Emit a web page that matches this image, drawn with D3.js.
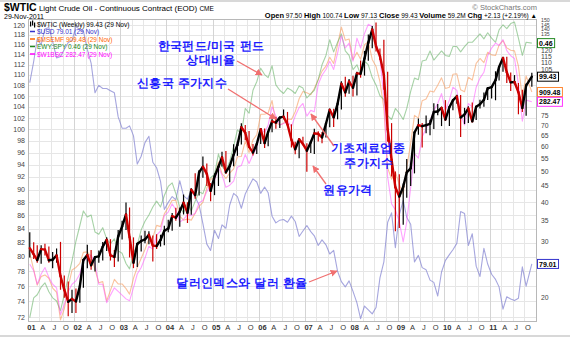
<!DOCTYPE html>
<html><head><meta charset="utf-8">
<script src="https://cdn.jsdelivr.net/npm/d3@7"></script>
<style>body{margin:0;background:#fff}svg{display:block}text{font-family:"Liberation Sans",Arial,sans-serif}</style>
</head><body><svg id="c" width="570" height="339"></svg>
<script>
// Monthly data, Jan 2001 .. Nov 2011 (131 months)
const firstMonth = "2001-01";
const lastDate = "2011-11-29";
const wticClose = [
28.66,27.39,26.29,28.46,28.37,26.25,26.35,27.20,23.43,21.18,19.44,19.84,
19.48,21.74,26.31,27.29,25.31,26.86,27.02,28.98,30.45,27.22,26.89,31.20,
33.51,36.60,31.04,25.80,29.56,30.19,30.54,31.57,29.20,29.11,30.41,32.52,
33.05,36.16,35.76,37.38,39.88,37.05,43.80,42.12,49.64,51.76,49.13,43.45,
48.20,51.75,55.40,49.72,51.97,56.50,60.57,68.94,66.24,59.76,57.32,61.04,
67.92,61.41,66.63,71.88,71.29,73.93,74.40,70.26,62.91,58.73,63.13,61.05,
58.14,61.79,65.87,65.71,64.01,70.68,78.21,74.04,81.66,94.53,88.71,95.98,
91.75,101.84,101.58,113.46,127.35,140.00,124.08,115.46,100.64,67.81,54.43,44.60,
41.68,44.76,49.66,51.12,66.31,69.89,69.45,69.96,70.61,77.00,77.28,79.36,
72.89,79.66,83.76,86.15,73.97,75.63,78.95,71.92,79.97,81.43,84.11,91.38,
92.19,96.97,106.72,113.93,102.70,95.42,95.70,88.81,79.20,93.19,99.43];
const wticHigh = [
32.2,29.9,29.3,29.3,29.6,29.0,27.9,28.6,30.0,23.5,22.5,21.2,
21.4,22.0,26.5,29.4,28.3,27.0,28.2,30.0,31.0,30.6,28.3,32.7,
35.0,39.9,38.5,31.0,29.8,31.4,32.5,32.4,31.4,31.7,31.6,33.7,
35.2,37.0,38.4,38.5,42.3,40.0,44.3,49.4,50.5,55.7,53.0,46.0,
49.3,52.0,57.7,58.0,52.4,60.9,62.3,70.9,70.0,67.0,61.0,61.3,
68.4,68.3,67.0,75.4,74.4,74.3,78.4,77.0,70.4,62.0,63.2,64.3,
61.3,62.2,68.1,66.9,66.6,70.7,78.8,78.8,84.1,96.2,99.3,97.8,
100.1,103.1,111.8,119.9,135.1,143.7,147.3,122.0,130.0,103.0,71.0,50.0,
49.0,45.8,54.7,53.0,66.3,73.4,71.0,75.0,72.7,82.0,81.5,79.4,
83.9,80.4,83.8,87.2,87.1,79.3,80.2,82.4,80.0,84.1,88.6,92.0,
92.6,103.4,107.0,114.8,115.0,102.5,100.6,95.0,90.5,94.7,102.4];
const wticLow = [
26.8,26.5,25.8,25.6,27.2,25.8,24.8,25.8,21.2,20.0,17.5,17.9,
17.9,19.3,21.5,24.8,24.5,24.2,25.8,26.2,28.1,26.2,25.0,26.0,
30.5,32.7,26.8,24.8,25.0,28.0,29.7,29.5,26.0,28.5,29.0,29.3,
32.2,32.5,35.0,33.5,36.6,34.4,36.5,41.0,42.0,47.8,45.0,40.3,
42.1,45.0,51.8,49.2,46.2,51.9,56.0,60.8,62.7,59.4,56.1,56.8,
61.0,59.3,60.0,66.5,68.2,68.5,73.0,69.6,59.5,56.6,55.0,60.5,
49.9,57.2,56.8,62.1,61.3,64.0,68.9,69.0,73.0,78.4,86.0,87.8,
86.1,86.7,98.7,100.2,111.7,122.3,119.3,112.2,90.5,62.0,48.2,32.4,
33.2,34.0,41.3,45.0,49.3,65.3,59.5,66.0,65.0,68.0,75.2,69.5,
72.4,69.5,78.0,81.7,64.2,70.5,71.0,71.6,72.6,79.0,80.0,84.0,
84.9,83.8,96.8,103.0,95.0,89.6,94.0,75.7,77.0,74.9,92.5];
const usd = [
108.5,112.6,117.1,116.0,119.2,119.5,116.6,113.3,113.6,115.0,116.4,116.8,
119.7,119.1,118.8,115.0,112.3,106.6,108.0,107.4,107.4,107.0,106.6,102.2,
100.2,100.2,100.6,98.9,94.1,95.4,97.7,98.8,94.4,93.5,91.3,86.9,
88.0,88.9,88.4,91.4,89.0,88.5,89.9,88.8,87.6,84.8,81.8,80.9,
83.8,82.6,84.6,84.1,87.6,89.4,88.9,87.1,89.3,90.5,91.7,91.2,
89.4,90.4,89.5,85.9,84.9,85.3,85.4,85.0,85.9,85.1,82.9,83.7,
84.5,83.6,83.0,81.6,82.4,81.7,80.4,80.9,78.0,76.6,75.9,76.7,
75.3,73.8,71.8,73.4,72.9,72.4,73.2,77.1,79.3,85.0,86.4,81.3,
86.1,88.3,85.7,84.7,79.3,80.2,78.5,78.2,76.8,76.5,74.7,77.9,
79.5,80.3,81.0,81.9,86.6,86.3,81.6,83.3,78.7,77.3,81.2,79.0,
77.6,76.9,75.9,73.0,74.6,74.3,74.1,74.4,78.6,76.0,79.01];
const msemf = [
350,318,290,305,308,302,285,278,236,252,287,317,
322,330,352,353,343,318,294,296,264,281,300,292,
292,284,275,302,322,340,358,381,384,413,410,442,
459,479,479,436,426,429,426,444,462,473,515,542,
550,601,561,545,563,577,620,621,680,635,685,706,
797,797,803,865,760,748,756,775,773,809,874,912,
905,895,929,979,1029,1060,1117,1077,1204,1336,1235,1245,
1100,1150,1104,1203,1225,1103,1058,967,825,580,543,567,
526,497,582,671,792,779,864,872,915,909,947,989,
929,935,1010,1013,921,911,992,976,1077,1109,1082,1151,
1133,1129,1200,1233,1181,1165,1160,1060,880,1000,909.48];
const ewySpy = [
0.114,0.126,0.128,0.133,0.136,0.130,0.126,0.124,0.118,0.128,0.140,0.152,
0.168,0.182,0.196,0.190,0.192,0.176,0.174,0.180,0.170,0.166,0.170,0.160,
0.158,0.150,0.146,0.158,0.165,0.178,0.186,0.192,0.200,0.206,0.200,0.212,
0.222,0.226,0.214,0.200,0.194,0.204,0.196,0.206,0.216,0.214,0.226,0.232,
0.236,0.262,0.246,0.240,0.252,0.272,0.296,0.290,0.330,0.322,0.362,0.378,
0.405,0.392,0.386,0.410,0.372,0.362,0.356,0.366,0.362,0.356,0.370,0.366,
0.348,0.356,0.362,0.382,0.412,0.432,0.468,0.440,0.462,0.482,0.442,0.432,
0.402,0.412,0.392,0.420,0.412,0.386,0.372,0.352,0.345,0.318,0.312,0.330,
0.322,0.312,0.330,0.360,0.385,0.382,0.420,0.422,0.442,0.422,0.432,0.442,
0.432,0.430,0.452,0.452,0.440,0.452,0.462,0.462,0.472,0.482,0.470,0.485,
0.472,0.462,0.492,0.505,0.495,0.508,0.512,0.472,0.432,0.462,0.46];
const w1bsc = [
120,116,108,114,118,112,108,106,92,97,104,108,
110,114,122,124,126,120,108,108,98,102,106,104,
102,100,99,106,114,118,124,132,130,140,143,155,
158,165,160,150,152,156,155,157,166,168,176,182,
186,200,192,180,182,186,200,202,214,204,214,222,
245,240,250,275,262,250,252,255,248,262,274,280,
262,270,268,310,325,335,350,335,365,400,375,385,
350,395,375,405,425,420,385,355,290,190,165,160,
150,135,150,180,215,210,235,245,255,270,280,295,
270,285,305,300,265,250,280,275,305,320,330,360,
375,385,380,392,370,360,355,310,255,285,282.47];

const leftTickValues = [72,74,76,78,80,82,84,86,88,90,92,94,96,98,100,102,104,106,108,110,112,114,116,118,120];
const rightTickValues = [20,25,30,35,40,45,50,55,60,65,70,75,80,85,90,95,100,105,110,115,120,125,130,135,140,145,150];
const yearLabels = ["01","02","03","04","05","06","07","08","09","10","11"];
const quarterLabels = ["A","J","O"];

const legendItems = [
  {t:"$WTIC (Weekly) 99.43 (29 Nov)", c:"#000"},
  {t:"$USD 79.01 (29 Nov)", c:"#3333cc"},
  {t:"$MSEMF 909.48 (29 Nov)", c:"#ff6600"},
  {t:"EWY:SPY 0.46 (29 Nov)", c:"#228822"},
  {t:"$W1BSC 282.47 (29 Nov)", c:"#ff00ff"}
];

const L=28, R=536, T=19, B=321;
const svg = d3.select("#c");
const parse = d3.timeParse("%Y-%m");
const m0 = parse(firstMonth);
const months = wticClose.map((d,i)=>d3.timeMonth.offset(m0,i));
const ptDate = (i)=> i===months.length-1 ? d3.timeParse("%Y-%m-%d")(lastDate) : d3.timeDay.offset(months[i],14);

const x = d3.scaleTime().domain([new Date(2001,0,1), new Date(2012,0,1)]).range([L, R]);
const yW = d3.scaleLog().domain([16.9,151.1]).range([B,T]);
const yU = d3.scaleLog().domain([71.5,121.3]).range([B,T]);
const yM = d3.scaleLog().domain([234.5,1401]).range([B,T]);
const yE = d3.scaleLog().domain([0.112,0.52]).range([B,T]);
const yB = d3.scaleLog().domain([89,437]).range([B,T]);

// frame lines
svg.append("rect").attr("x",0).attr("y",0).attr("width",570).attr("height",2).attr("fill","#d8d8d8");
svg.append("rect").attr("x",0).attr("y",335).attr("width",570).attr("height",2).attr("fill","#d8d8d8");

// gridlines
const g = svg.append("g");
leftTickValues.forEach(v=>{
  g.append("line").attr("x1",L).attr("x2",R).attr("y1",Math.round(yU(v))+0.5).attr("y2",Math.round(yU(v))+0.5)
   .attr("stroke","#e6e6e6").attr("stroke-width",1);
});
const quarters = d3.timeMonth.every(3).range(new Date(2001,0,1), new Date(2012,0,1));
quarters.forEach(q=>{
  const xx = Math.round(x(q))+0.5;
  g.append("line").attr("x1",xx).attr("x2",xx).attr("y1",T).attr("y2",B)
   .attr("stroke", q.getMonth()===0 ? "#d4d4d4" : "#e6e6e6").attr("stroke-width",1);
});
svg.append("rect").attr("x",L+0.5).attr("y",T+0.5).attr("width",R-L).attr("height",B-T)
  .attr("fill","none").attr("stroke","#b8b8b8");

// x axis labels
quarters.forEach(q=>{
  const mo = q.getMonth();
  const lab = mo===0 ? yearLabels[q.getFullYear()-2001] : quarterLabels[mo/3-1];
  svg.append("text").attr("x",x(q)+3.5).attr("y",330).attr("text-anchor","middle")
    .attr("font-size",7.5).attr("font-weight",mo===0?"bold":"normal").attr("fill","#333").text(lab);
});

// value boxes positions (for hiding covered right ticks)
const boxes = [
  {v:"0.46", y:yE(0.46), c:"#228822"},
  {v:"99.43", y:yW(99.43), c:"#000"},
  {v:"909.48", y:yM(909.48), c:"#ff8833"},
  {v:"282.47", y:yB(282.47), c:"#ff33ff"},
  {v:"79.01", y:yU(79.01), c:"#3333cc"}
];

// left axis labels
leftTickValues.forEach(v=>{
  svg.append("text").attr("x",25).attr("y",yU(v)+2.5).attr("text-anchor","end")
    .attr("font-size",7).attr("fill","#444").text(v);
});
// right axis labels (skip those hidden under value boxes)
rightTickValues.forEach(v=>{
  const yy = yW(v);
  if (boxes.some(b=>Math.abs(b.y-yy)<7.5)) return;
  const fs = v>=125 ? 5.2 : 6.8;
  svg.append("text").attr("x",541).attr("y",yy+fs*0.36).attr("text-anchor","start")
    .attr("font-size",fs).attr("fill","#444").text(v);
});

// overlay lines
svg.append("clipPath").attr("id","pc").append("rect").attr("x",L).attr("y",T).attr("width",R-L).attr("height",B-T);
const pg = svg.append("g").attr("clip-path","url(#pc)");
function drawLine(arr, sc, color, w, op){
  const line = d3.line().x((d,i)=>x(ptDate(i))).y(d=>sc(d));
  pg.append("path").attr("d",line(arr)).attr("fill","none").attr("stroke",color)
    .attr("stroke-width",w).attr("stroke-opacity",op).attr("stroke-linejoin","round");
}
drawLine(usd, yU, "#8080d0", 1.1, 0.7);
drawLine(msemf, yM, "#f79a5c", 1.1, 0.6);
drawLine(ewySpy, yE, "#6ab46a", 1.1, 0.6);
drawLine(w1bsc, yB, "#ff55ff", 1.1, 0.55);

// WTIC: thin high-low bars plus thick close path (red on down months)
wticClose.forEach((c,i)=>{
  const up = i===0 ? true : c >= wticClose[i-1];
  const xm = x(ptDate(i));
  pg.append("line").attr("x1",xm).attr("x2",xm).attr("y1",yW(wticHigh[i])).attr("y2",yW(wticLow[i]))
    .attr("stroke", up ? "#000" : "#cc0000").attr("stroke-width",1.2);
});
wticClose.forEach((c,i)=>{
  if(i===0) return;
  const up = c >= wticClose[i-1];
  pg.append("line").attr("x1",x(ptDate(i-1))).attr("y1",yW(wticClose[i-1])).attr("x2",x(ptDate(i))).attr("y2",yW(c))
    .attr("stroke", up ? "#000" : "#cc0000").attr("stroke-width",2.4).attr("stroke-linecap","round");
});

// header
const hdr = svg.append("text").attr("x",4).attr("y",11).attr("fill","#000");
hdr.append("tspan").attr("font-size",10.5).attr("font-weight","bold").text("$WTIC");
hdr.append("tspan").attr("font-size",8).text(" Light Crude Oil - Continuous Contract (EOD) ");
hdr.append("tspan").attr("font-size",6.5).text("CME");
svg.append("text").attr("x",4).attr("y",19).attr("font-size",7).attr("fill","#000").text("29-Nov-2011");
svg.append("text").attr("x",537).attr("y",10).attr("text-anchor","end").attr("font-size",7.5).attr("fill","#777").text("© StockCharts.com");
const info = svg.append("text").attr("x",537).attr("y",18).attr("text-anchor","end").attr("font-size",7).attr("fill","#000");
[["Open"," 97.50  "],["High"," 100.74  "],["Low"," 97.13  "],["Close"," 99.43  "],["Volume"," 59.2M  "],["Chg"," +2.13 (+2.19%) ▲"]].forEach(p=>{
  info.append("tspan").attr("font-weight","bold").attr("font-size",7.5).text(p[0]);
  info.append("tspan").attr("font-size",6.5).text(p[1]);
});

// legend
legendItems.forEach((d,i)=>{
  const yy = 26.5 + i*7.5;
  if(i===0){
    [[30,-5],[32,-6],[34,-4]].forEach(b=>{
      svg.append("rect").attr("x",b[0]).attr("y",yy+b[1]).attr("width",1.2).attr("height",5).attr("fill","#000");
    });
  } else {
    svg.append("line").attr("x1",30).attr("x2",35).attr("y1",yy-2.5).attr("y2",yy-2.5).attr("stroke",d.c).attr("stroke-width",1.5);
  }
  svg.append("text").attr("x",37).attr("y",yy).attr("font-size",6.5).attr("fill",d.c).text(d.t);
});

// value boxes on right
boxes.forEach(b=>{
  const t = svg.append("text").attr("x",539).attr("y",b.y+2.6).attr("font-size",7).attr("font-weight","bold").attr("fill","#000").text(b.v);
  const w = t.node().getComputedTextLength();
  svg.insert("rect", () => t.node()).attr("x",537.5).attr("y",b.y-4.5).attr("width",w+3.5).attr("height",9)
    .attr("fill","#fff").attr("stroke",b.c).attr("stroke-width",1);
});

// annotations
const ann = svg.append("g").attr("font-size",12).attr("font-weight","bold").attr("fill","#1c1cff");
[["한국펀드/미국 펀드",211,50],["상대비율",211,64],["신흥국 주가지수",182,87],["기초재료업종",368,152],["주가지수",369,167],["원유가격",348,194],["달러인덱스와 달러 환율",242,287]]
.forEach(a=>ann.append("text").attr("x",a[1]).attr("y",a[2]).attr("text-anchor","middle").attr("letter-spacing",0.4).attr("font-family","'Noto Sans CJK KR',sans-serif").text(a[0]));

svg.append("defs").append("marker").attr("id","ah").attr("viewBox","0 0 10 10").attr("refX",9).attr("refY",5)
  .attr("markerWidth",7).attr("markerHeight",7).attr("orient","auto").attr("markerUnits","userSpaceOnUse")
  .append("path").attr("d","M0,0L10,5L0,10z").attr("fill","#f07070");
[[237,61,262,75],[228,89,276,119],[334,146,311,114],[326,184,313,166],[309,282,337,271]].forEach(a=>{
  svg.append("line").attr("x1",a[0]).attr("y1",a[1]).attr("x2",a[2]).attr("y2",a[3])
    .attr("stroke","#f07070").attr("stroke-width",1.3).attr("marker-end","url(#ah)");
});
</script></body></html>
